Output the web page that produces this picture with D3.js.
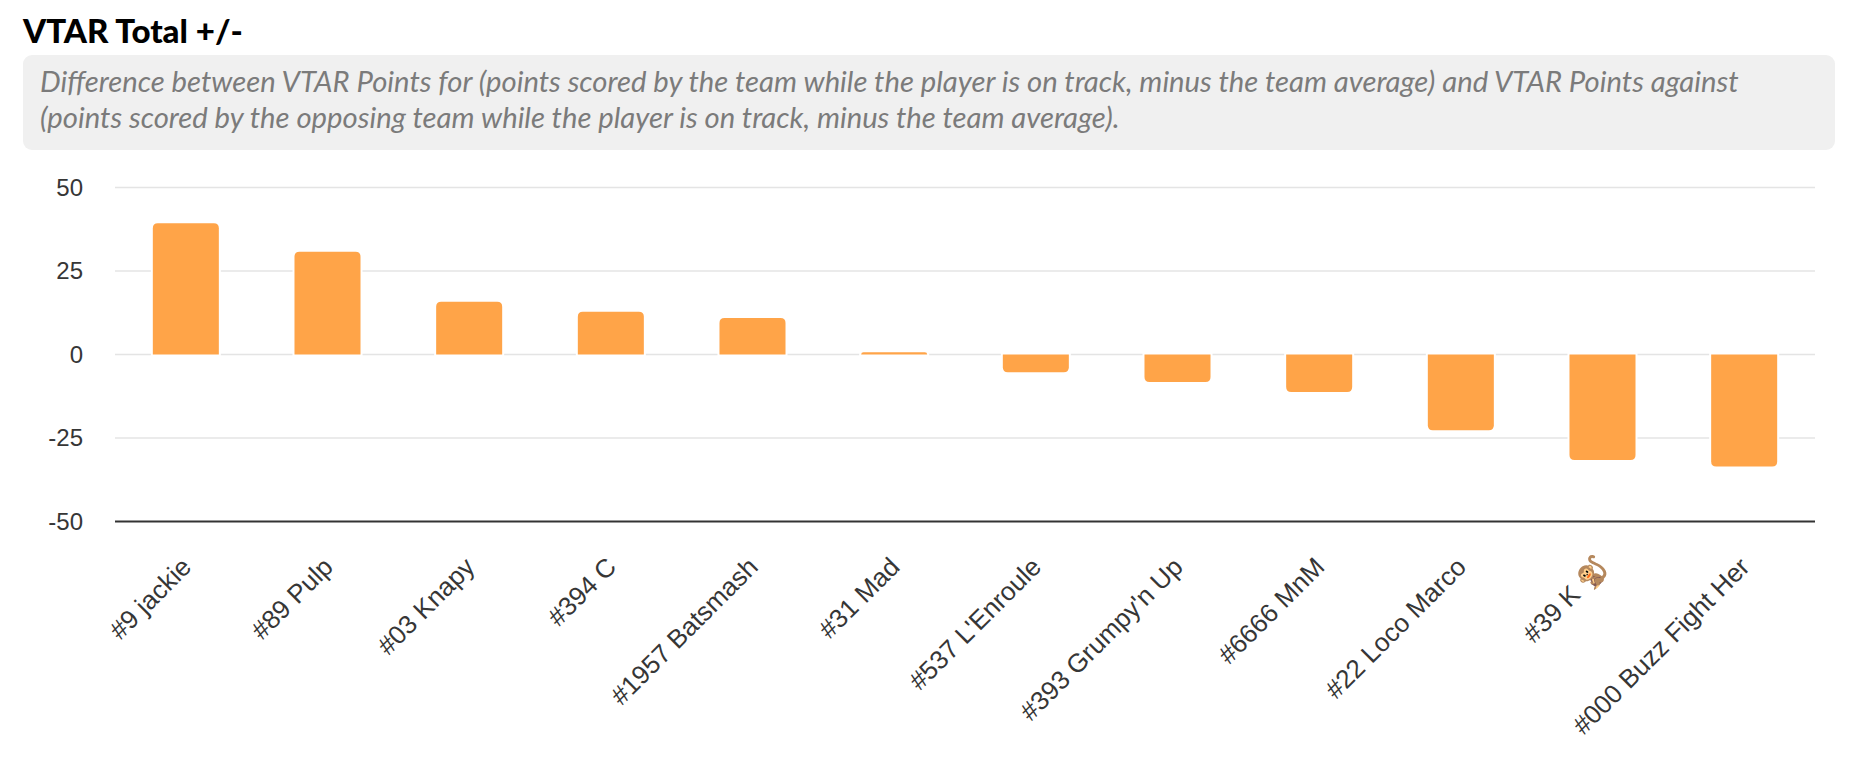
<!DOCTYPE html>
<html>
<head>
<meta charset="utf-8">
<script src="https://cdn.jsdelivr.net/npm/d3@7"></script>
<style>
    body { margin: 0; background: #fff; }
    svg { display: block; }
</style>
</head>
<body>
<svg id="chart" width="1850" height="778"></svg>
<script>
// Values.
const players = [
    "#9 jackie", "#89 Pulp", "#03 Knapy", "#394 C", "#1957 Batsmash", "#31 Mad",
    "#537 L'Enroule", "#393 Grumpy'n Up", "#6666 MnM", "#22 Loco Marco", "#39 K \u{1F412}",
    "#000 Buzz Fight Her"
];
const totals = [39.3, 30.8, 15.8, 12.8, 10.9, 0.7, -5.3, -8.2, -11.2, -22.7, -31.6, -33.5];
const yTicks = [-50, -25, 0, 25, 50];

const title = "VTAR Total +/-";
const description = [
    "Difference between VTAR Points for (points scored by the team while the player is on track, minus the team average) and VTAR Points against",
    "(points scored by the opposing team while the player is on track, minus the team average)."
];

const svg = d3.select("#chart");

// Shrinks or grows a text node's font size until it spans the given width.
function fitWidth(text, width) {
    const size = parseFloat(text.attr("font-size"));
    const len = text.node().getComputedTextLength();
    text.attr("font-size", size * width / len);
    return size * width / len;
}

// Header
const titleText = svg.append("text")
    .attr("x", 23)
    .attr("y", 43)
    .attr("font-family", "Lato, 'Open Sans', sans-serif")
    .attr("font-weight", 900)
    .attr("font-size", 32)
    .style("fill", "#000")
    .text(title);
fitWidth(titleText, 220);

svg.append("rect")
    .attr("x", 23)
    .attr("y", 55)
    .attr("width", 1812)
    .attr("height", 95)
    .attr("rx", 9)
    .attr("ry", 9)
    .style("fill", "#f0f0f0");

const descLines = svg.append("g")
    .attr("font-family", "Lato, 'Open Sans', sans-serif")
    .attr("font-style", "italic")
    .style("fill", "#7b7b7b");

const first = descLines.append("text")
    .attr("x", 40)
    .attr("y", 92)
    .attr("font-size", 26)
    .text(description[0]);
const descSize = fitWidth(first, 1699);

descLines.append("text")
    .attr("x", 40)
    .attr("y", 128)
    .attr("font-size", descSize)
    .text(description[1]);

// Chart area
const plotLeft = 115, plotRight = 1815;
const plotTop = 187.5, plotBottom = 521.5;

const x = d3.scaleBand()
    .domain(players)
    .range([plotLeft, plotRight])
    .paddingInner(0.534)
    .paddingOuter(0.267);

const y = d3.scaleLinear()
    .domain([-50, 50])
    .range([plotBottom, plotTop]);

const font = "'Liberation Sans', Arial, Helvetica, sans-serif";

// Grid lines
svg.append("g")
    .attr("class", "grid")
    .selectAll("line")
    .data(yTicks.filter(d => d !== -50))
    .enter()
    .append("line")
    .attr("x1", plotLeft)
    .attr("x2", plotRight)
    .attr("y1", d => y(d))
    .attr("y2", d => y(d))
    .style("stroke", "#e4e4e4")
    .style("stroke-width", 1.6);

// Y axis labels (plain hyphen for negatives, like the original)
const yAxis = svg.append("g")
    .attr("transform", "translate(" + (plotLeft - 32) + ",0)")
    .call(d3.axisLeft(y)
        .tickValues(yTicks)
        .tickFormat(d => String(d))
        .tickSize(0)
        .tickPadding(0));
yAxis.select(".domain").remove();
yAxis.selectAll("text")
    .attr("font-family", font)
    .attr("font-size", 24)
    .style("fill", "#363636");

// Bars: rounded on the end away from zero, with a thin white halo
function barPath(x0, w, yBase, yEnd, r) {
    const h = Math.abs(yEnd - yBase);
    r = Math.min(r, h, w / 2);
    const dir = yEnd < yBase ? 1 : -1; // 1 = bar grows up
    const p = d3.path();
    p.moveTo(x0, yBase);
    p.lineTo(x0, yEnd + dir * r);
    p.quadraticCurveTo(x0, yEnd, x0 + r, yEnd);
    p.lineTo(x0 + w - r, yEnd);
    p.quadraticCurveTo(x0 + w, yEnd, x0 + w, yEnd + dir * r);
    p.lineTo(x0 + w, yBase);
    p.closePath();
    return p.toString();
}

svg.append("g")
    .attr("class", "bars")
    .selectAll("path")
    .data(totals)
    .enter()
    .append("path")
    .attr("d", (d, i) => barPath(x(players[i]), x.bandwidth(), y(0), y(d), 5))
    .style("fill", "#ffa448")
    .style("stroke", "#fff")
    .style("stroke-width", 4)
    .style("paint-order", "stroke");

// X axis line
svg.append("line")
    .attr("x1", plotLeft)
    .attr("x2", plotRight)
    .attr("y1", plotBottom)
    .attr("y2", plotBottom)
    .style("stroke", "#333")
    .style("stroke-width", 2);

// X axis labels, rotated
svg.append("g")
    .attr("class", "x-labels")
    .selectAll("text")
    .data(players)
    .enter()
    .append("text")
    .attr("transform", d => "translate(" + (x(d) + x.bandwidth() / 2 + 7) + "," + (plotBottom + 47) + ") rotate(-45)")
    .attr("text-anchor", "end")
    .attr("font-family", font)
    .attr("font-size", 26)
    .style("fill", "#363636")
    .text(d => d);
</script>
</body>
</html>
